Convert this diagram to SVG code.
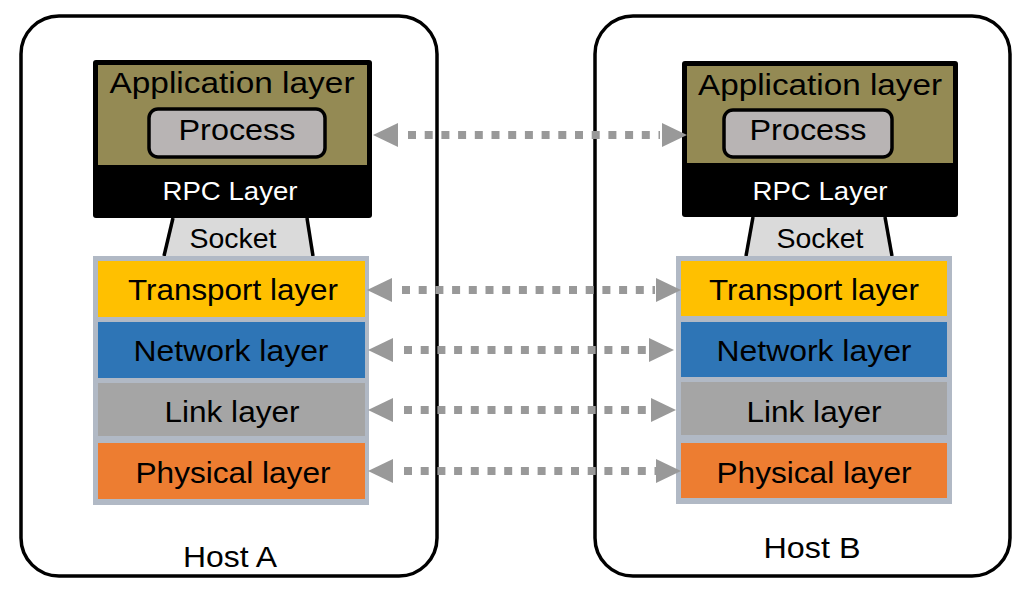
<svg xmlns="http://www.w3.org/2000/svg" width="1029" height="595" viewBox="0 0 1029 595">
<style>
text{font-family:"Liberation Sans",Arial,sans-serif;text-anchor:middle}
.host{fill:#fff;stroke:#000;stroke-width:3.5}
.lbl{font-size:30px;fill:#000}
.app{fill:#000}
.olive{fill:#948a54}
.proc{fill:#b8b4b4;stroke:#000;stroke-width:3.5}
.sock{fill:#dadada}
.sockside{stroke:#000;stroke-width:3.5;fill:none}
.stack{fill:#b1b9c5}
.tr{fill:#ffc000}.nw{fill:#2e75b6}.lk{fill:#a5a5a5}.ph{fill:#ed7d31}
.dot{stroke:#999;stroke-width:8;stroke-dasharray:8 8.7;fill:none}
.head{fill:#999}
</style>
<rect width="1029" height="595" fill="#fff"/>
<g id="hostA">
<rect class="host" x="21" y="16" width="416" height="560" rx="38"/>
<text class="lbl" x="230" y="567" textLength="94" lengthAdjust="spacingAndGlyphs">Host A</text>
</g>
<g id="hostB">
<rect class="host" x="595" y="16" width="415" height="560" rx="38"/>
<text class="lbl" x="812" y="558" textLength="97" lengthAdjust="spacingAndGlyphs">Host B</text>
</g>
<g id="appA">
<rect class="app" x="93" y="60" width="279" height="158" rx="3"/>
<rect class="olive" x="98" y="65" width="269" height="100"/>
<text class="lbl" x="232" y="93" textLength="245" lengthAdjust="spacingAndGlyphs">Application layer</text>
<text x="230" y="200" font-size="26" fill="#fff" textLength="135" lengthAdjust="spacingAndGlyphs">RPC Layer</text>
</g>
<g id="processA">
<rect class="proc" x="149" y="109" width="176" height="48" rx="9"/>
<text class="lbl" x="237" y="140" textLength="117" lengthAdjust="spacingAndGlyphs">Process</text>
</g>
<g id="socketA">
<polygon class="sock" points="173,218 307,218 313,256 163,256"/>
<polyline class="sockside" points="173,218 164,256"/>
<polyline class="sockside" points="307,218 313,256"/>
<text x="233" y="248" font-size="28" textLength="87" lengthAdjust="spacingAndGlyphs">Socket</text>
</g>
<g id="stackA">
<rect class="stack" x="93" y="256" width="276" height="249"/>
<rect class="tr" x="98" y="261" width="267" height="56"/>
<rect class="nw" x="98" y="322" width="267" height="56"/>
<rect class="lk" x="98" y="383" width="267" height="53"/>
<rect class="ph" x="98" y="443" width="267" height="56"/>
<text class="lbl" x="233" y="300" textLength="210" lengthAdjust="spacingAndGlyphs">Transport layer</text>
<text class="lbl" x="231" y="361" textLength="195" lengthAdjust="spacingAndGlyphs">Network layer</text>
<text class="lbl" x="232" y="422" textLength="135" lengthAdjust="spacingAndGlyphs">Link layer</text>
<text class="lbl" x="233" y="483" textLength="195" lengthAdjust="spacingAndGlyphs">Physical layer</text>
</g>
<g id="appB">
<rect class="app" x="682" y="61" width="276" height="156" rx="3"/>
<rect class="olive" x="687" y="66" width="266" height="97"/>
<text class="lbl" x="820" y="95" textLength="244" lengthAdjust="spacingAndGlyphs">Application layer</text>
<text x="820" y="200" font-size="26" fill="#fff" textLength="135" lengthAdjust="spacingAndGlyphs">RPC Layer</text>
</g>
<g id="processB">
<rect class="proc" x="724" y="110" width="168" height="47" rx="9"/>
<text class="lbl" x="808" y="140" textLength="117" lengthAdjust="spacingAndGlyphs">Process</text>
</g>
<g id="socketB">
<polygon class="sock" points="753,217 885,217 892,256 746,256"/>
<polyline class="sockside" points="753,217 746,256"/>
<polyline class="sockside" points="885,217 892,256"/>
<text x="820" y="248" font-size="28" textLength="87" lengthAdjust="spacingAndGlyphs">Socket</text>
</g>
<g id="stackB">
<rect class="stack" x="676" y="256" width="276" height="248"/>
<rect class="tr" x="681" y="261" width="266" height="55"/>
<rect class="nw" x="681" y="322" width="266" height="55"/>
<rect class="lk" x="681" y="382" width="266" height="53"/>
<rect class="ph" x="681" y="443" width="266" height="55"/>
<text class="lbl" x="814" y="300" textLength="210" lengthAdjust="spacingAndGlyphs">Transport layer</text>
<text class="lbl" x="814" y="361" textLength="195" lengthAdjust="spacingAndGlyphs">Network layer</text>
<text class="lbl" x="814" y="422" textLength="135" lengthAdjust="spacingAndGlyphs">Link layer</text>
<text class="lbl" x="814" y="483" textLength="195" lengthAdjust="spacingAndGlyphs">Physical layer</text>
</g>
<g id="connectors">
<line class="dot" x1="408" y1="135" x2="660" y2="135"/>
<polygon class="head" points="373,135 398,123 398,147"/>
<polygon class="head" points="687,135 662,123 662,147"/>
<line class="dot" x1="402" y1="290" x2="655" y2="290"/>
<polygon class="head" points="367,290 392,278 392,302"/>
<polygon class="head" points="681,290 656,278 656,302"/>
<line class="dot" x1="404" y1="350" x2="650" y2="350"/>
<polygon class="head" points="368,350 393,338 393,362"/>
<polygon class="head" points="674,350 649,338 649,362"/>
<line class="dot" x1="404" y1="410" x2="652" y2="410"/>
<polygon class="head" points="368,410 393,398 393,422"/>
<polygon class="head" points="676,410 651,398 651,422"/>
<line class="dot" x1="404" y1="471" x2="656" y2="471"/>
<polygon class="head" points="368,471 393,459 393,483"/>
<polygon class="head" points="681,471 656,459 656,483"/>
</g>
</svg>
